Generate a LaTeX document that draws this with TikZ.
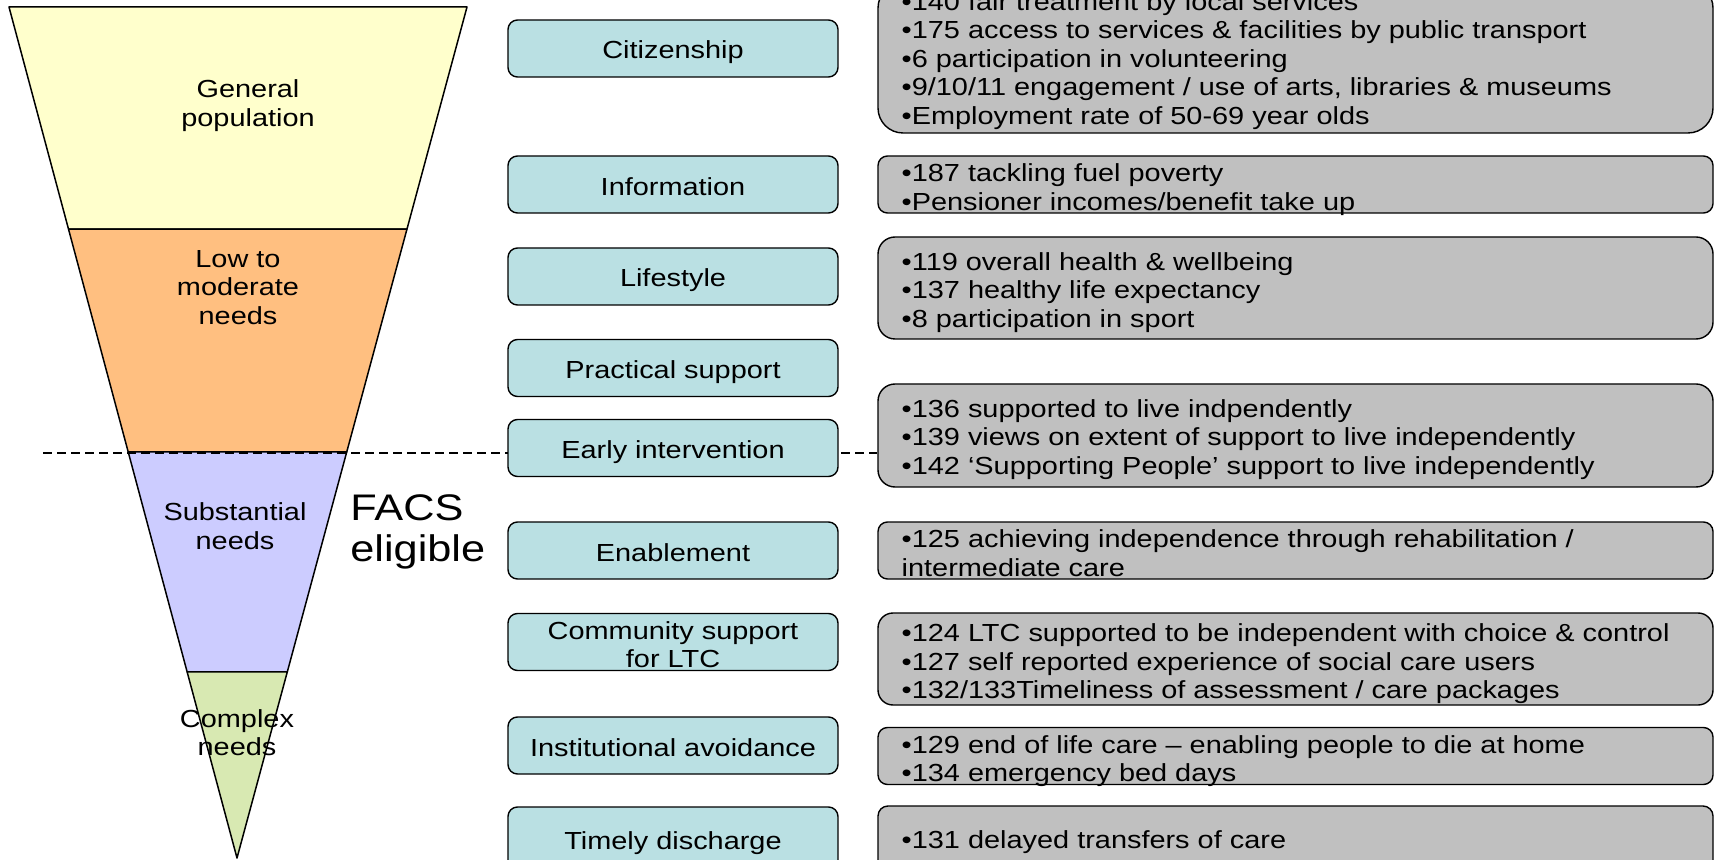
\documentclass[tikz,border=0pt]{standalone}
\usepackage{fontspec}
\setmainfont{Liberation Sans}[FakeStretch=1.17]
\usetikzlibrary{calc,backgrounds}
\definecolor{cyel}{HTML}{FFFFCC}
\definecolor{corange}{HTML}{FFBF80}
\definecolor{clav}{HTML}{CCCCFF}
\definecolor{cgreen}{HTML}{D8E9B2}
\definecolor{cteal}{HTML}{BAE0E3}
\definecolor{cgray}{HTML}{C0C0C0}
\begin{document}
\begin{tikzpicture}[x=0.5pt,y=-0.5pt,
  txt/.style={font=\fontsize{12.35pt}{14.25pt}\selectfont},
  band/.style={draw=black, line width=0.75pt, line join=round},
  lbl/.style={txt, align=center, inner sep=0pt},
  midbox/.style={draw=black, line width=0.7pt, fill=cteal, rounded corners=4.75pt, minimum width=165pt, minimum height=28.5pt, inner sep=0pt},
  kpibox/.style={draw=black, line width=0.7pt, fill=cgray, inner sep=0pt, minimum width=417.5pt},
  kpitext/.style={txt, align=left, inner sep=0pt, anchor=west},
  divider/.style={dash pattern=on 4.5pt off 2.5pt, line width=0.85pt}
]
\useasboundingbox (0,0) rectangle (1717,860);
\clip (0,0) rectangle (1717,860);

% funnel labels
\node[lbl] (gp) at (248,105.5) {General\\population};
\node[lbl] (lm) at (238,287.5) {Low to\\moderate\\needs};
\node[lbl] (sn) at (235,526) {Substantial\\needs};
\node[lbl] (cn) at (237,732.5) {Complex\\needs};
\node[lbl, align=left, font=\fontsize{18.5pt}{20.5pt}\selectfont, anchor=west] (facs) at (350,532) {FACS\\eligible};

% middle boxes
\node[midbox] (m1) at (673,48.5) {};
\node[midbox] (m2) at (673,184.5) {};
\node[midbox] (m3) at (673,276.5) {};
\node[midbox] (m4) at (673,368) {};
\node[midbox] (m5) at (673,448) {};
\node[midbox] (m6) at (673,550.5) {};
\node[midbox] (m7) at (673,642) {};
\node[midbox] (m8) at (673,745.5) {};
\node[midbox, minimum height=32pt] (m9) at (673,839) {};
\node[lbl] (m1t) at ($(m1.center)+(0,4)$) {Citizenship};
\node[lbl] (m2t) at ($(m2.center)+(0,2.5)$) {Information};
\node[lbl] (m3t) at ($(m3.center)+(0,4)$) {Lifestyle};
\node[lbl] (m4t) at ($(m4.center)+(0,4)$) {Practical support};
\node[lbl] (m5t) at ($(m5.center)+(0,4)$) {Early intervention};
\node[lbl] (m6t) at ($(m6.center)+(0,2.5)$) {Enablement};
\node[lbl] (m7t) at ($(m7.center)+(0,2.5)$) {Community support\\for LTC};
\node[lbl] (m8t) at ($(m8.center)+(0,2)$) {Institutional avoidance};
\node[lbl] (m9t) at ($(m9.center)+(0,4)$) {Timely discharge};

% indicator boxes
\node[kpibox, minimum height=75pt, rounded corners=12.5pt] (r1) at (1295.5,58) {};
\node[kpibox, minimum height=28.5pt, rounded corners=4.75pt] (r2) at (1295.5,184.5) {};
\node[kpibox, minimum height=51pt, rounded corners=8.5pt] (r3) at (1295.5,288) {};
\node[kpibox, minimum height=51.5pt, rounded corners=8.5pt] (r5) at (1295.5,435.5) {};
\node[kpibox, minimum height=28.5pt, rounded corners=4.75pt] (r6) at (1295.5,550.5) {};
\node[kpibox, minimum height=46pt, rounded corners=7.5pt] (r7) at (1295.5,659) {};
\node[kpibox, minimum height=28.5pt, rounded corners=4.75pt] (r8) at (1295.5,756) {};
\node[kpibox, minimum height=32pt, rounded corners=5pt] (r9) at (1295.5,838) {};

\node[kpitext] (r1t) at ($(r1.west)+(24,3)$) {%
•140 fair treatment by local services\\
•175 access to services \& facilities by public transport\\
•6 participation in volunteering\\
•9/10/11 engagement / use of arts, libraries \& museums\\
•Employment rate of 50-69 year olds};
\node[kpitext] (r2t) at ($(r2.west)+(24,5)$) {%
•187 tackling fuel poverty\\
•Pensioner incomes/benefit take up};
\node[kpitext] (r3t) at ($(r3.west)+(24,4.5)$) {%
•119 overall health \& wellbeing\\
•137 healthy life expectancy\\
•8 participation in sport};
\node[kpitext] (r5t) at ($(r5.west)+(24,4)$) {%
•136 supported to live indpendently\\
•139 views on extent of support to live independently\\
•142 ‘Supporting People’ support to live independently};
\node[kpitext] (r6t) at ($(r6.west)+(24,2.5)$) {%
•125 achieving independence through rehabilitation /\\
intermediate care};
\node[kpitext] (r7t) at ($(r7.west)+(24,5)$) {%
•124 LTC supported to be independent with choice \& control\\
•127 self reported experience of social care users\\
•132/133Timeliness of assessment / care packages};
\node[kpitext] (r8t) at ($(r8.west)+(24,5)$) {%
•129 end of life care – enabling people to die at home\\
•134 emergency bed days};
\node[kpitext] (r9t) at ($(r9.west)+(24,4)$) {%
•131 delayed transfers of care};

\begin{pgfonlayer}{background}
  \coordinate (TL) at (9,7);
  \coordinate (TR) at (467,7);
  \coordinate (A) at (237,858);
  \coordinate (L1) at ($(TL)!0.2609!(A)$);
  \coordinate (R1) at ($(TR)!0.2609!(A)$);
  \coordinate (L2) at ($(TL)!0.5229!(A)$);
  \coordinate (R2) at ($(TR)!0.5229!(A)$);
  \coordinate (L3) at ($(TL)!0.7814!(A)$);
  \coordinate (R3) at ($(TR)!0.7814!(A)$);
  \draw[band, fill=cyel] (TL) -- (TR) -- (R1) -- (L1) -- cycle;
  \draw[band, fill=corange] (L1) -- (R1) -- (R2) -- (L2) -- cycle;
  \draw[band, fill=clav] (L2) -- (R2) -- (R3) -- (L3) -- cycle;
  \draw[band, fill=cgreen] (L3) -- (R3) -- (A) -- cycle;
  \coordinate (dl) at (43,453);
  \draw[divider] (dl) -- (dl -| r5.west);
\end{pgfonlayer}
\end{tikzpicture}
\end{document}
